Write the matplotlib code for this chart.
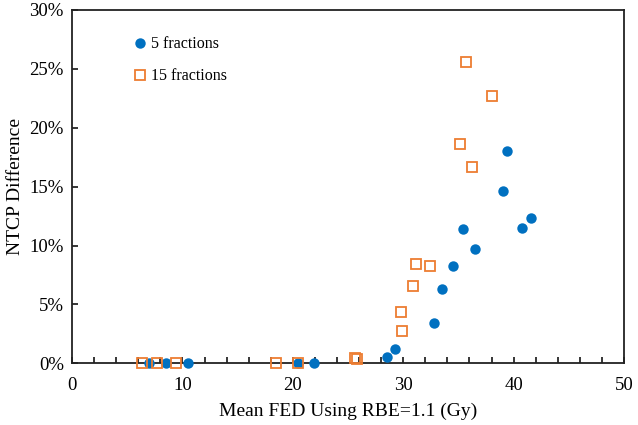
import matplotlib.pyplot as plt
from matplotlib.ticker import MultipleLocator, PercentFormatter

plt.rcParams['font.family'] = ['Liberation Serif', 'DejaVu Serif']

# 5 fractions (mean FED in Gy, NTCP difference in %)
fed_5 = [7.0, 8.5, 10.5, 20.5, 21.9, 28.5, 29.3, 32.8, 33.5, 34.5, 35.4, 36.5,
         39.0, 39.4, 40.8, 41.6]
ntcp_5 = [0.0, 0.0, 0.0, 0.0, 0.0, 0.5, 1.2, 3.4, 6.3, 8.3, 11.4, 9.7,
          14.6, 18.0, 11.5, 12.3]

# 15 fractions
fed_15 = [6.3, 7.7, 9.4, 18.5, 20.5, 25.6, 25.85, 29.9, 29.8, 30.9, 31.2, 32.4,
          35.1, 35.7, 36.2, 38.0]
ntcp_15 = [0.0, 0.0, 0.0, 0.0, 0.0, 0.45, 0.35, 2.75, 4.35, 6.6, 8.45, 8.3,
           18.6, 25.55, 16.65, 22.7]

fig = plt.figure(figsize=(6.38, 4.25), dpi=100)
ax = fig.add_axes([0.113, 0.145, 0.865, 0.832])

ax.plot(fed_5, ntcp_5, 'o', color='#0070C0', markersize=7.5,
        markeredgewidth=0, label='5 fractions', clip_on=False, zorder=3)
ax.plot(fed_15, ntcp_15, 's', color='#ED7D31', markerfacecolor='none',
        markersize=6.6, markeredgewidth=1.3, label='15 fractions',
        clip_on=False, zorder=4)

ax.set_xlim(0, 50)
ax.set_ylim(0, 30)
ax.xaxis.set_major_locator(MultipleLocator(10))
ax.xaxis.set_minor_locator(MultipleLocator(2))
ax.yaxis.set_major_locator(MultipleLocator(5))
ax.yaxis.set_major_formatter(PercentFormatter(decimals=0))
ax.tick_params(axis='both', which='both', direction='in', length=4,
               width=1.1, labelsize=13.5, top=False, right=False)
ax.tick_params(axis='x', pad=10)
ax.tick_params(axis='y', pad=6)

for s in ax.spines.values():
    s.set_linewidth(1.3)
    s.set_color('#222222')

ax.set_xlabel('Mean FED Using RBE=1.1 (Gy)', fontsize=14, labelpad=6)
ax.set_ylabel('NTCP Difference', fontsize=14, labelpad=4)

ax.legend(loc='upper left', bbox_to_anchor=(0.092, 0.948), frameon=False,
          fontsize=11.5, handletextpad=0.05, labelspacing=1.0,
          handlelength=1.2, borderpad=0)

fig.savefig('out.png', dpi=100)
